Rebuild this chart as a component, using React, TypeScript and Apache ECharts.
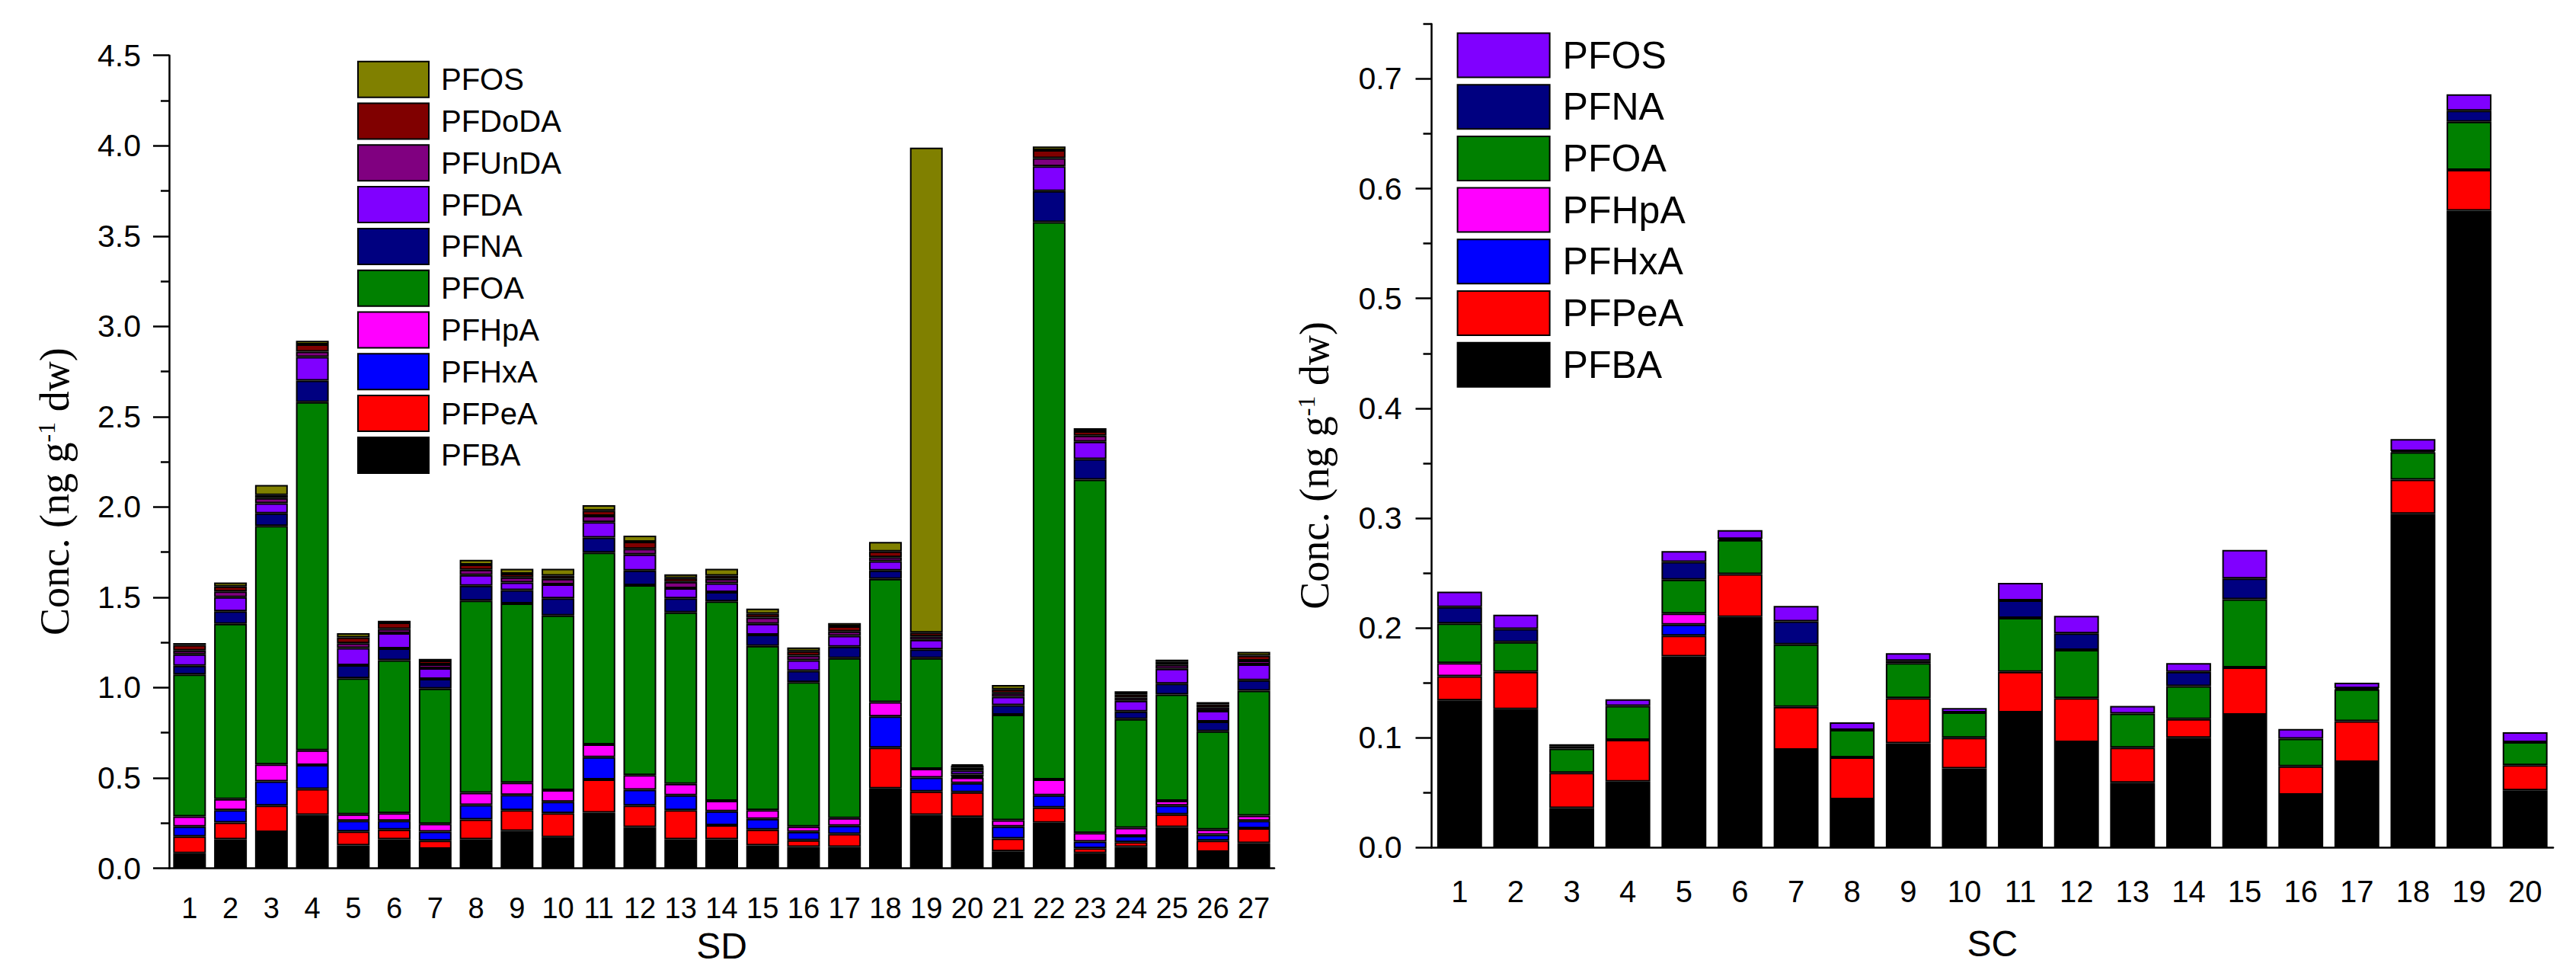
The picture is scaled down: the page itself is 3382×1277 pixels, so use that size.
import React, { useEffect, useRef } from 'react';
import * as echarts from 'echarts';

// 左图 SD：27 个站点，10 种 PFAS（自下而上堆叠）
const sdSites = ['1', '2', '3', '4', '5', '6', '7', '8', '9', '10', '11', '12', '13', '14', '15', '16', '17', '18', '19', '20', '21', '22', '23', '24', '25', '26', '27'];
const sdPFBA = [0.083, 0.16, 0.2, 0.295, 0.127, 0.16, 0.108, 0.16, 0.207, 0.172, 0.308, 0.228, 0.16, 0.16, 0.127, 0.118, 0.118, 0.442, 0.295, 0.284, 0.094, 0.252, 0.083, 0.118, 0.228, 0.091, 0.139];
const sdPFPeA = [0.093, 0.093, 0.147, 0.144, 0.077, 0.054, 0.045, 0.11, 0.115, 0.133, 0.183, 0.119, 0.162, 0.078, 0.087, 0.037, 0.072, 0.226, 0.13, 0.137, 0.071, 0.084, 0.028, 0.026, 0.07, 0.062, 0.082];
const sdPFHxA = [0.055, 0.069, 0.134, 0.133, 0.059, 0.049, 0.05, 0.08, 0.084, 0.063, 0.124, 0.088, 0.082, 0.077, 0.059, 0.046, 0.045, 0.172, 0.077, 0.05, 0.066, 0.068, 0.037, 0.035, 0.049, 0.033, 0.042];
const sdPFHpA = [0.056, 0.061, 0.094, 0.081, 0.035, 0.042, 0.043, 0.068, 0.068, 0.064, 0.07, 0.081, 0.063, 0.058, 0.049, 0.03, 0.042, 0.08, 0.049, 0.031, 0.035, 0.087, 0.047, 0.045, 0.026, 0.028, 0.028];
const sdPFOA = [0.785, 0.97, 1.32, 1.927, 0.753, 0.847, 0.748, 1.064, 0.992, 0.967, 1.062, 1.051, 0.949, 1.104, 0.909, 0.799, 0.886, 0.682, 0.612, 0.005, 0.584, 3.086, 1.956, 0.602, 0.589, 0.544, 0.692];
const sdPFNA = [0.049, 0.07, 0.07, 0.12, 0.073, 0.065, 0.054, 0.082, 0.074, 0.095, 0.084, 0.081, 0.078, 0.052, 0.062, 0.063, 0.063, 0.046, 0.049, 0.012, 0.053, 0.172, 0.114, 0.042, 0.06, 0.054, 0.058];
const sdPFDA = [0.063, 0.078, 0.056, 0.13, 0.095, 0.084, 0.059, 0.059, 0.042, 0.077, 0.085, 0.089, 0.056, 0.049, 0.06, 0.059, 0.061, 0.052, 0.052, 0.022, 0.046, 0.137, 0.096, 0.059, 0.082, 0.059, 0.087];
const sdPFUnDA = [0.021, 0.031, 0.028, 0.03, 0.026, 0.024, 0.021, 0.03, 0.028, 0.031, 0.035, 0.031, 0.035, 0.024, 0.035, 0.025, 0.024, 0.022, 0.019, 0.015, 0.02, 0.045, 0.034, 0.018, 0.021, 0.018, 0.021];
const sdPFDoDA = [0.031, 0.028, 0.017, 0.04, 0.033, 0.035, 0.021, 0.028, 0.02, 0.018, 0.028, 0.039, 0.021, 0.018, 0.021, 0.024, 0.028, 0.032, 0.021, 0.012, 0.021, 0.045, 0.024, 0.018, 0.017, 0.018, 0.028];
const sdPFOS = [0.01, 0.022, 0.056, 0.02, 0.023, 0.01, 0.01, 0.026, 0.028, 0.038, 0.031, 0.034, 0.021, 0.038, 0.028, 0.021, 0.018, 0.052, 2.685, 0.007, 0.025, 0.02, 0.017, 0.017, 0.013, 0.013, 0.021];

// 右图 SC：20 个站点，7 种 PFAS
const scSites = ['1', '2', '3', '4', '5', '6', '7', '8', '9', '10', '11', '12', '13', '14', '15', '16', '17', '18', '19', '20'];
const scPFBA = [0.134, 0.126, 0.036, 0.06, 0.174, 0.21, 0.089, 0.044, 0.095, 0.072, 0.123, 0.096, 0.059, 0.1, 0.121, 0.048, 0.078, 0.304, 0.58, 0.052];
const scPFPeA = [0.022, 0.034, 0.032, 0.038, 0.019, 0.039, 0.039, 0.038, 0.041, 0.028, 0.037, 0.04, 0.032, 0.017, 0.043, 0.026, 0.037, 0.031, 0.037, 0.023];
const scPFHxA = [0, 0, 0, 0, 0.01, 0, 0, 0, 0, 0, 0, 0, 0, 0, 0, 0, 0, 0, 0, 0];
const scPFHpA = [0.012, 0, 0, 0, 0.01, 0, 0, 0, 0, 0, 0, 0, 0, 0, 0, 0, 0, 0, 0, 0];
const scPFOA = [0.036, 0.027, 0.022, 0.031, 0.031, 0.031, 0.057, 0.025, 0.032, 0.023, 0.049, 0.044, 0.031, 0.03, 0.062, 0.025, 0.029, 0.025, 0.044, 0.021];
const scPFNA = [0.015, 0.012, 0.002, 0, 0.016, 0.001, 0.021, 0, 0.002, 0, 0.016, 0.015, 0, 0.013, 0.019, 0, 0.001, 0.001, 0.01, 0];
const scPFOS = [0.014, 0.013, 0.002, 0.006, 0.01, 0.008, 0.014, 0.007, 0.007, 0.004, 0.016, 0.016, 0.007, 0.008, 0.026, 0.009, 0.005, 0.011, 0.015, 0.009];

// 右图纵轴刻度
const scTicks = [0, 0.1, 0.2, 0.3, 0.4, 0.5, 0.6, 0.7];
const scMinorTicks = [0.05, 0.15, 0.25, 0.35, 0.45, 0.55, 0.65, 0.75];

const sdLayers = [
  { name: 'PFBA', color: '#000000', values: sdPFBA },
  { name: 'PFPeA', color: '#FF0000', values: sdPFPeA },
  { name: 'PFHxA', color: '#0000FF', values: sdPFHxA },
  { name: 'PFHpA', color: '#FF00FF', values: sdPFHpA },
  { name: 'PFOA', color: '#008000', values: sdPFOA },
  { name: 'PFNA', color: '#000080', values: sdPFNA },
  { name: 'PFDA', color: '#8000FF', values: sdPFDA },
  { name: 'PFUnDA', color: '#800080', values: sdPFUnDA },
  { name: 'PFDoDA', color: '#800000', values: sdPFDoDA },
  { name: 'PFOS', color: '#808000', values: sdPFOS },
];

const scLayers = [
  { name: 'PFBA', color: '#000000', values: scPFBA },
  { name: 'PFPeA', color: '#FF0000', values: scPFPeA },
  { name: 'PFHxA', color: '#0000FF', values: scPFHxA },
  { name: 'PFHpA', color: '#FF00FF', values: scPFHpA },
  { name: 'PFOA', color: '#008000', values: scPFOA },
  { name: 'PFNA', color: '#000080', values: scPFNA },
  { name: 'PFOS', color: '#8000FF', values: scPFOS },
];

const SANS = "'Liberation Sans', Arial, sans-serif";
const SERIF = "'Liberation Serif', 'Times New Roman', serif";
const SC_PREFIX = 'SC·';

const lineBlack = { color: '#000', width: 2.5 };

const yTitle = {
  name: '{a|Conc. (ng g}{s|-1}{a| dw)}',
  nameLocation: 'middle',
  nameRotate: 90,
  nameTextStyle: {
    padding: [0, 78, 0, 0],
    rich: {
      a: { fontFamily: SERIF, fontSize: 54, color: '#000' },
      s: { fontFamily: SERIF, fontSize: 32, color: '#000', verticalAlign: 'top' },
    },
  },
};

const App: React.FC = () => {
  const chartRef = useRef<HTMLDivElement>(null);

  useEffect(() => {
    if (!chartRef.current) return;
    document.body.style.margin = '0';
    const chart = echarts.init(chartRef.current, null, { renderer: 'svg' });

    const makeSeries = (layers: typeof sdLayers, stack: string, xi: number, yi: number, prefix: string) =>
      layers.map(layer => ({
        type: 'bar',
        name: prefix + layer.name,
        stack,
        xAxisIndex: xi,
        yAxisIndex: yi,
        barCategoryGap: '20%',
        itemStyle: { color: layer.color, borderColor: '#000', borderWidth: 2 },
        data: layer.values.map(v => (v === 0 ? null : v)),
      }));

    const option = {
      animation: false,
      backgroundColor: '#ffffff',
      grid: [
        { left: 222, top: 72.7, width: 1451, height: 1066.8 },
        { left: 1879.5, top: 31.4, width: 1472.5, height: 1080.9 },
      ],
      legend: [
        {
          orient: 'vertical',
          left: 464,
          top: 74.7,
          itemWidth: 93,
          itemHeight: 47,
          itemGap: 5.8,
          icon: 'rect',
          selectedMode: false,
          data: sdLayers.map(l => l.name).reverse(),
          textStyle: { fontFamily: SANS, fontSize: 40, color: '#000', lineHeight: 47, padding: [0, 0, 0, 11] },
        },
        {
          orient: 'vertical',
          left: 1907.6,
          top: 37.5,
          itemWidth: 121,
          itemHeight: 58,
          itemGap: 7.7,
          icon: 'rect',
          selectedMode: false,
          data: scLayers.map(l => SC_PREFIX + l.name).reverse(),
          formatter: (n: string) => n.replace(SC_PREFIX, ''),
          textStyle: { fontFamily: SANS, fontSize: 50, color: '#000', lineHeight: 58, padding: [0, 0, 0, 12] },
        },
      ],
      xAxis: [
        {
          gridIndex: 0,
          type: 'category',
          data: sdSites,
          position: 'bottom',
          axisLine: { lineStyle: lineBlack },
          axisTick: { alignWithLabel: true, length: 22, lineStyle: lineBlack },
          axisLabel: { interval: 0, margin: 33, fontFamily: SANS, fontSize: 38, color: '#000' },
          name: 'SD',
          nameLocation: 'middle',
          nameGap: 78,
          nameTextStyle: { fontFamily: SANS, fontSize: 48, color: '#000' },
        },
        {
          gridIndex: 0,
          type: 'category',
          data: sdSites,
          position: 'bottom',
          axisLine: { show: false },
          axisTick: { length: 10.5, lineStyle: lineBlack },
          axisLabel: { show: false },
        },
        {
          gridIndex: 1,
          type: 'category',
          data: scSites,
          position: 'bottom',
          axisLine: { lineStyle: lineBlack },
          axisTick: { alignWithLabel: true, length: 22, lineStyle: lineBlack },
          axisLabel: { interval: 0, margin: 38, fontFamily: SANS, fontSize: 40, color: '#000' },
          name: 'SC',
          nameLocation: 'middle',
          nameGap: 102,
          nameTextStyle: { fontFamily: SANS, fontSize: 48, color: '#000' },
        },
        {
          gridIndex: 1,
          type: 'category',
          data: scSites,
          position: 'bottom',
          axisLine: { show: false },
          axisTick: { length: 10.5, lineStyle: lineBlack },
          axisLabel: { show: false },
        },
      ],
      yAxis: [
        {
          ...yTitle,
          nameGap: 123,
          gridIndex: 0,
          type: 'value',
          position: 'left',
          min: 0,
          max: 4.5,
          interval: 0.5,
          axisLine: { show: true, lineStyle: lineBlack },
          axisTick: { show: true, length: 21, lineStyle: lineBlack },
          minorTick: { show: true, splitNumber: 2, length: 11, lineStyle: lineBlack },
          splitLine: { show: false },
          axisLabel: {
            margin: 37,
            fontFamily: SANS,
            fontSize: 41,
            color: '#000',
            formatter: (v: number) => v.toFixed(1),
          },
        },
        {
          ...yTitle,
          nameGap: 127,
          gridIndex: 1,
          type: 'value',
          position: 'left',
          min: 0,
          max: 0.75,
          interval: 0.05,
          axisLine: { show: true, lineStyle: lineBlack },
          axisTick: { show: true, length: 21, lineStyle: lineBlack, customValues: scTicks },
          splitLine: { show: false },
          axisLabel: {
            margin: 39,
            fontFamily: SANS,
            fontSize: 41,
            color: '#000',
            customValues: scTicks,
            formatter: (v: number) => v.toFixed(1),
          },
        },
        {
          gridIndex: 1,
          type: 'value',
          position: 'left',
          min: 0,
          max: 0.75,
          interval: 0.05,
          axisLine: { show: false },
          axisTick: { show: true, length: 11, lineStyle: lineBlack, customValues: scMinorTicks },
          splitLine: { show: false },
          axisLabel: { show: false },
        },
      ],
      series: [
        ...makeSeries(sdLayers, 'sd', 0, 0, ''),
        ...makeSeries(scLayers, 'sc', 2, 1, SC_PREFIX),
      ],
    };

    chart.setOption(option as any);

    const handleResize = () => chart.resize();
    window.addEventListener('resize', handleResize);

    return () => {
      window.removeEventListener('resize', handleResize);
      chart.dispose();
    };
  }, []);

  return <div ref={chartRef} style={{ width: '3382px', height: '1277px' }} />;
};

export default App;
